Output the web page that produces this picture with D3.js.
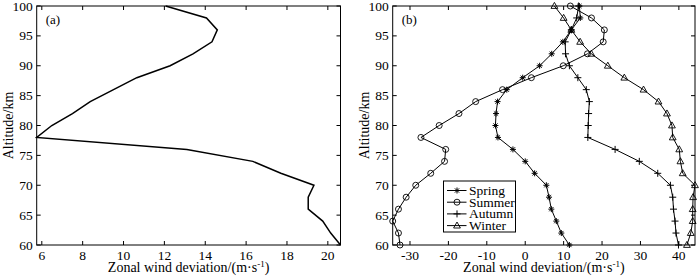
<!DOCTYPE html>
<html><head><meta charset="utf-8">
<script src="https://cdn.jsdelivr.net/npm/d3@7"></script>
<style>body{margin:0;background:#fff}svg{display:block}text{font-family:"Liberation Serif","Times New Roman",serif;fill:#000}</style>
</head><body><svg id="c" width="700" height="278"></svg>
<script>
const altitudes = [60,62,64,66,68,70,72,74,76,78,80,82,84,86,88,90,92,94,96,98,100];
const meanWind = [20.62,20.14,19.75,19.04,19.04,19.32,17.7,16.33,13.1,5.75,6.49,7.5,8.37,9.51,10.65,12.28,13.4,14.33,14.59,14.06,12.06];
const spring = [11.5,9.4,8.1,6.8,6.2,5.5,2.45,0.0,-3.2,-7.1,-7.75,-7.6,-7.2,-4.8,-0.65,3.75,6.9,9.8,12.0,14.35,14.1];
const summer = [-32.6,-33.0,-34.5,-33.0,-31.0,-28.5,-24.6,-21.0,-20.7,-27.15,-22.4,-17.25,-12.9,-5.9,1.6,9.9,16.2,20.3,20.6,17.25,11.75];
const autumn = [39.9,39.25,39.0,38.6,38.4,37.8,34.5,29.7,23.4,16.3,16.4,16.5,16.7,15.9,13.7,11.5,10.5,10.4,12.0,13.4,13.9];
const winter = [42.1,43.1,43.6,43.6,43.7,44.2,41.0,40.4,40.1,38.4,38.2,36.9,34.7,30.8,25.8,21.5,17.2,14.3,12.0,10.0,7.6];
const seriesNames = ["Spring","Summer","Autumn","Winter"];
const xTicksA = [6,8,10,12,14,16,18,20];
const xTicksB = [-30,-20,-10,0,10,20,30,40];
const yTicks = [60,65,70,75,80,85,90,95,100];
const xTitle = "Zonal wind deviation/(m·s";
const yTitle = "Altitude/km";

const svg = d3.select("#c");
const plotTop = 6, plotBottom = 245;

function panel(g, x, y, xTicks, label) {
  const [x0,x1] = x.range(), [y0,y1] = y.range();
  const tl = 4;
  g.append("rect").attr("x",x0).attr("y",y1).attr("width",x1-x0).attr("height",y0-y1)
    .attr("fill","none").attr("stroke","#000").attr("stroke-width",1);
  xTicks.forEach(t=>{
    const px = x(t);
    g.append("line").attr("x1",px).attr("x2",px).attr("y1",y0).attr("y2",y0-tl).attr("stroke","#000");
    g.append("line").attr("x1",px).attr("x2",px).attr("y1",y1).attr("y2",y1+tl).attr("stroke","#000");
    g.append("text").attr("x",px).attr("y",y0+15).attr("text-anchor","middle").attr("font-size",13.5).text(String(t));
  });
  yTicks.forEach(t=>{
    const py = y(t);
    g.append("line").attr("x1",x0).attr("x2",x0+tl).attr("y1",py).attr("y2",py).attr("stroke","#000");
    g.append("line").attr("x1",x1).attr("x2",x1-tl).attr("y1",py).attr("y2",py).attr("stroke","#000");
    g.append("text").attr("x",x0-4).attr("y",py+4.5).attr("text-anchor","end").attr("font-size",13.5).text(t);
  });
  const xt = g.append("text").attr("x",(x0+x1)/2).attr("y",272).attr("text-anchor","middle").attr("font-size",14);
  xt.append("tspan").text(xTitle);
  xt.append("tspan").attr("font-size",9).attr("dy",-5).text("-1");
  xt.append("tspan").attr("dy",5).text(")");
  g.append("text").attr("transform",`translate(${x0-24},${(y0+y1)/2}) rotate(-90)`)
    .attr("text-anchor","middle").attr("font-size",14).text(yTitle);
  g.append("text").attr("x",x0+9).attr("y",y1+18).attr("font-size",13).text(label);
}

// Panel (a)
const xa = d3.scaleLinear().domain(d3.extent(meanWind)).range([36.7,340.5]);
const ya = d3.scaleLinear().domain([60,100]).range([plotBottom,plotTop]);
const ga = svg.append("g");
panel(ga, xa, ya, xTicksA, "(a)");
ga.append("path").datum(altitudes.map((a,i)=>[meanWind[i],a]))
  .attr("fill","none").attr("stroke","#000").attr("stroke-width",1.5)
  .attr("d", d3.line().x(d=>xa(d[0])).y(d=>ya(d[1])));

// Panel (b)
const allB = spring.concat(summer, autumn, winter);
const xb = d3.scaleLinear().domain(d3.extent(allB)).range([392.7,695]);
const yb = d3.scaleLinear().domain([60,100]).range([plotBottom,plotTop]);
const gb = svg.append("g");
panel(gb, xb, yb, xTicksB, "(b)");

function marker(g, type, cx, cy) {
  const s = 3;
  if (type==="Spring") {
    [0,45,90,135].forEach(a=>{
      const r=a*Math.PI/180;
      g.append("line").attr("x1",cx-s*Math.cos(r)).attr("y1",cy-s*Math.sin(r))
        .attr("x2",cx+s*Math.cos(r)).attr("y2",cy+s*Math.sin(r)).attr("stroke","#000").attr("stroke-width",1);
    });
  } else if (type==="Summer") {
    g.append("circle").attr("cx",cx).attr("cy",cy).attr("r",3).attr("fill","none").attr("stroke","#000").attr("stroke-width",0.9);
  } else if (type==="Autumn") {
    g.append("line").attr("x1",cx-3.5).attr("x2",cx+3.5).attr("y1",cy).attr("y2",cy).attr("stroke","#000");
    g.append("line").attr("x1",cx).attr("x2",cx).attr("y1",cy-3.5).attr("y2",cy+3.5).attr("stroke","#000");
  } else {
    g.append("path").attr("d",`M${cx},${cy-3.6}L${cx+3.4},${cy+2.4}L${cx-3.4},${cy+2.4}Z`)
      .attr("fill","none").attr("stroke","#000").attr("stroke-width",0.9);
  }
}

const seriesVals = [spring, summer, autumn, winter];
seriesVals.forEach((vals,k)=>{
  const pts = altitudes.map((a,i)=>[vals[i],a]);
  gb.append("path").datum(pts).attr("fill","none").attr("stroke","#000").attr("stroke-width",1)
    .attr("d", d3.line().x(d=>xb(d[0])).y(d=>yb(d[1])));
  pts.forEach(p=>marker(gb, seriesNames[k], xb(p[0]), yb(p[1])));
});

// Legend
const lg = gb.append("g");
lg.append("rect").attr("x",443.5).attr("y",181).attr("width",72).attr("height",51)
  .attr("fill","#fff").attr("stroke","#000").attr("stroke-width",1);
seriesNames.forEach((n,i)=>{
  const ly = 190.5 + i*11.7;
  lg.append("line").attr("x1",447).attr("x2",466.5).attr("y1",ly).attr("y2",ly).attr("stroke","#000");
  marker(lg, n, 457, ly);
  lg.append("text").attr("x",469).attr("y",ly+4.3).attr("font-size",13.5).text(n);
});
</script></body></html>
